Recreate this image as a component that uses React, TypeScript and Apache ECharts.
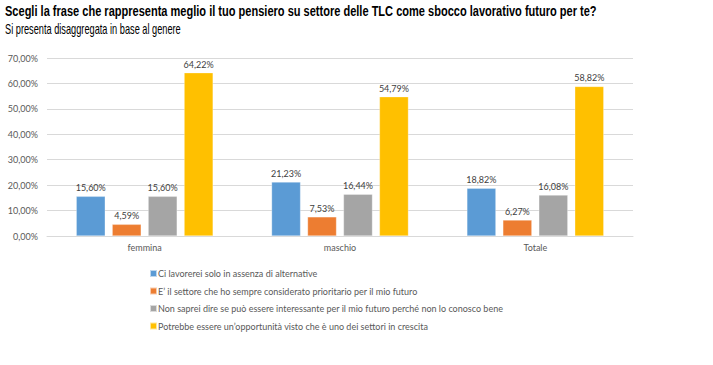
import React, { useEffect, useRef } from "react";
import * as echarts from "echarts";

const categories = ["femmina", "maschio", "Totale"];
const seriesNames = [
  "Ci lavorerei solo in assenza di alternative",
  "E\u2019 il settore che ho sempre considerato prioritario per il mio futuro",
  "Non saprei dire se può essere interessante per il mio futuro perché non lo conosco bene",
  "Potrebbe essere un\u2019opportunità visto che è uno dei settori in crescita",
];
const s1 = [15.6, 21.23, 18.82];
const s2 = [4.59, 7.53, 6.27];
const s3 = [15.6, 16.44, 16.08];
const s4 = [64.22, 54.79, 58.82];
const colors = ["#5B9BD5", "#ED7D31", "#A5A5A5", "#FFC000"];
const titleText = "Scegli la frase che rappresenta meglio il tuo pensiero su settore delle TLC come sbocco lavorativo futuro per te?";
const subtitleText = "Si presenta disaggregata in base al genere";

const fmt = (v: number) => v.toFixed(2).replace(".", ",") + "%";
const bodyFont = "Lato, 'Open Sans', sans-serif";
const titleFont = "'Liberation Sans', Arial, sans-serif";

function measure(text: string, font: string): number {
  const c = document.createElement("canvas");
  const ctx = c.getContext("2d");
  if (!ctx) return text.length * 7;
  ctx.font = font;
  return ctx.measureText(text).width;
}

export default function App() {
  const ref = useRef<HTMLDivElement>(null);
  useEffect(() => {
    if (!ref.current) return;
    const chart = echarts.init(ref.current, null, { renderer: "svg" });
    const data = [s1, s2, s3, s4];
    const tFont = `bold 14px ${titleFont}`;
    const sFont = `14px ${titleFont}`;
    const tScale = 592 / measure(titleText, tFont);
    const sScale = 176 / measure(subtitleText, sFont);
    chart.setOption({
      animation: false,
      backgroundColor: "#ffffff",
      graphic: [
        {
          type: "text",
          x: 5,
          y: 5,
          scaleX: tScale,
          style: { text: titleText, font: tFont, fill: "#000" },
        },
        {
          type: "text",
          x: 5,
          y: 22,
          scaleX: sScale,
          style: { text: subtitleText, font: sFont, fill: "#000" },
        },
      ],
      grid: { left: 47, right: 80, top: 58, bottom: 129, containLabel: false },
      legend: {
        orient: "vertical",
        left: 144,
        top: 263,
        itemWidth: 7,
        itemHeight: 7,
        itemGap: 6.5,
        icon: "rect",
        textStyle: { fontFamily: bodyFont, fontSize: 9, color: "#595959", lineHeight: 11, padding: [0, 0, 0, -4] },
        data: seriesNames,
      },
      xAxis: {
        type: "category",
        data: categories,
        axisTick: { show: false },
        axisLine: { lineStyle: { color: "#D9D9D9" } },
        axisLabel: { fontFamily: bodyFont, fontSize: 9, color: "#595959", margin: 7 },
      },
      yAxis: {
        type: "value",
        min: 0,
        max: 70,
        interval: 10,
        axisLine: { show: false },
        axisTick: { show: false },
        splitLine: { lineStyle: { color: "#D9D9D9" } },
        axisLabel: {
          fontFamily: bodyFont,
          fontSize: 9,
          color: "#595959",
          margin: 9,
          formatter: (v: number) => fmt(v),
        },
      },
      series: data.map((d, i) => ({
        name: seriesNames[i],
        type: "bar",
        data: d,
        barWidth: 29,
        barGap: "24%",
        itemStyle: { color: colors[i], borderColor: "rgba(255,255,255,0.6)", borderWidth: 0.5 },
        label: {
          show: true,
          position: "top",
          distance: 4,
          fontFamily: bodyFont,
          fontSize: 9,
          color: "#404040",
          formatter: (p: any) => fmt(p.value),
        },
      })),
    });
    return () => chart.dispose();
  }, []);
  return (
    <div
      ref={ref}
      style={{ position: "absolute", left: 0, top: 0, width: 713, height: 365 }}
    />
  );
}
